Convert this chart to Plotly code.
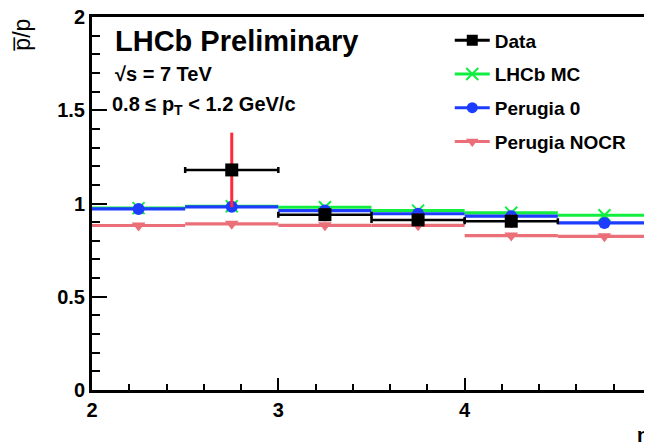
import plotly.graph_objects as go

# ---- data ----
bin_centers = [2.25, 2.75, 3.25, 3.75, 4.25, 4.75]
bin_halfwidth = [0.25, 0.25, 0.25, 0.25, 0.25, 0.25]
lhcb_mc = [0.975, 0.985, 0.98, 0.962, 0.95, 0.937]
perugia0 = [0.971, 0.982, 0.962, 0.945, 0.932, 0.896]
perugia_nocr = [0.882, 0.891, 0.883, 0.883, 0.828, 0.824]

data_x = [2.75, 3.25, 3.75, 4.25]
data_y = [1.18, 0.94, 0.912, 0.905]
data_yerr = [0.2, 0.035, 0.035, 0.035]
data_xerr = [0.25, 0.25, 0.25, 0.25]

x_ticks = [2, 3, 4, 5]
y_ticks = [0, 0.5, 1, 1.5, 2]
y_ticktext = ["0", "0.5", "1", "1.5", "2"]

BLACK = "#000000"
GREEN = "#10ee40"
BLUE = "#1c3cff"
SALMON = "#ea6f78"
RED = "#ff2a3a"

FONT = "Liberation Sans, Arial, sans-serif"

fig = go.Figure()

def hist_trace(y, color, symbol, size, mline=0):
    return go.Scatter(
        x=bin_centers, y=y, mode="markers", showlegend=False,
        marker=dict(symbol=symbol, size=size, color=color,
                    line=dict(width=mline, color=color)),
        error_x=dict(type="data", array=bin_halfwidth, symmetric=True,
                     width=0, thickness=3.2, color=color),
    )

fig.add_trace(hist_trace(perugia_nocr, SALMON, "triangle-down", 12))
fig.add_trace(hist_trace(lhcb_mc, GREEN, "x-thin-open", 12, 2))
fig.add_trace(hist_trace(perugia0, BLUE, "circle", 12))
fig.add_trace(go.Scatter(
    x=data_x, y=data_y, mode="markers", showlegend=False,
    marker=dict(symbol="square", size=13, color=BLACK),
    error_x=dict(type="data", array=data_xerr, symmetric=True,
                 width=3, thickness=2.5, color=BLACK),
    error_y=dict(type="data", array=data_yerr, symmetric=True,
                 width=0, thickness=3, color=RED),
))

# legend-only entries
legend_items = [
    ("Data", BLACK, "square", 11, 0),
    ("LHCb MC", GREEN, "x-thin-open", 12, 2),
    ("Perugia 0", BLUE, "circle", 11, 0),
    ("Perugia NOCR", SALMON, "triangle-down", 11, 0),
]
for i, (name, col, sym, sz, lw) in enumerate(legend_items):
    fig.add_trace(go.Scatter(
        x=[None], y=[None], mode="lines+markers", name=name,
        legendgroup=name, legendrank=i + 1,
        line=dict(color=col, width=3),
        marker=dict(symbol=sym, size=sz, color=col, line=dict(width=lw, color=col)),
    ))

fig.update_layout(
    width=644, height=440,
    margin=dict(l=84, r=1, t=9, b=58, autoexpand=False),
    paper_bgcolor="white", plot_bgcolor="white",
    font=dict(family=FONT, size=20, color="black"),
    showlegend=True,
    legend=dict(x=0.64, y=0.988, xanchor="left", yanchor="top",
                bgcolor="rgba(0,0,0,0)", font=dict(size=19, weight="bold"),
                tracegroupgap=6, itemwidth=35),
    xaxis=dict(range=[2, 5], tickvals=x_ticks, ticks="inside", ticklen=12,
               tickwidth=2, tickcolor="black", showgrid=False, zeroline=False,
               showline=True, linewidth=3, linecolor="black", mirror=True,
               automargin=False, ticklabeloverflow="allow",
               minor=dict(dtick=0.2, ticks="inside", ticklen=6, tickwidth=2,
                          tickcolor="black", showgrid=False),
               tickfont=dict(size=20, weight="bold")),
    yaxis=dict(range=[0, 2], tickvals=y_ticks, ticktext=y_ticktext,
               ticks="inside", ticklen=15,
               tickwidth=2, tickcolor="black", showgrid=False, zeroline=False,
               showline=True, linewidth=3, linecolor="black", mirror=True,
               automargin=False, ticklabeloverflow="allow",
               minor=dict(dtick=0.1, ticks="inside", ticklen=8, tickwidth=2,
                          tickcolor="black", showgrid=False),
               tickfont=dict(size=20, weight="bold")),
)

fig.add_annotation(text="<b>LHCb Preliminary</b>", xref="paper", yref="paper",
                   x=0.037, y=0.935, xanchor="left", yanchor="middle",
                   showarrow=False, font=dict(size=29))
fig.add_annotation(text="√s = 7 TeV", xref="paper", yref="paper",
                   x=0.037, y=0.847, xanchor="left", yanchor="middle",
                   showarrow=False, font=dict(size=20, weight="bold"))
fig.add_annotation(text="0.8 ≤ p<sub>T</sub> < 1.2 GeV/c", xref="paper", yref="paper",
                   x=0.033, y=0.762, xanchor="left", yanchor="middle",
                   showarrow=False, font=dict(size=20, weight="bold"))
fig.add_annotation(text="p\u0305/p", xref="paper", yref="paper",
                   x=0, xshift=-70, y=0.952, xanchor="center", yanchor="middle",
                   textangle=-90, showarrow=False, font=dict(size=23))
fig.add_annotation(text="η", xref="paper", yref="paper",
                   x=1, xshift=-8, y=0, yshift=-32, xanchor="center", yanchor="top",
                   showarrow=False, font=dict(size=20, weight="bold"))

fig.write_html("out.html")
